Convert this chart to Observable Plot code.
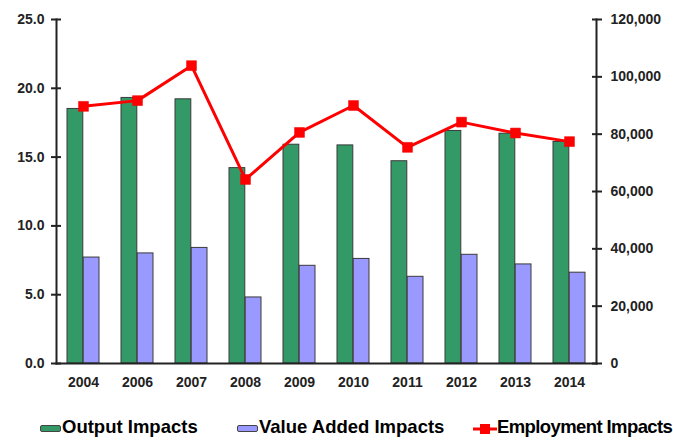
<!DOCTYPE html>
<html>
<head>
<meta charset="utf-8">
<script src="https://cdn.jsdelivr.net/npm/d3@7"></script>
<script src="https://cdn.jsdelivr.net/npm/@observablehq/plot@0.6"></script>
<style>
  html, body { margin: 0; padding: 0; background: #fff; }
  #wrap { position: relative; width: 673px; height: 441px; font-family: "Liberation Sans", Arial, sans-serif; }
  .leg { position: absolute; top: 416px; font-weight: bold; font-size: 18.5px; color: #000; display: flex; align-items: center; white-space: nowrap; }
  .sw { width: 21px; height: 7px; border: 1px solid #444; border-radius: 2px; box-sizing: border-box; margin-right: 1px; margin-top: 3px; }
</style>
</head>
<body>
<div id="wrap">
  <div id="chart"></div>
  <div class="leg" style="left:40px"><span class="sw" style="background:#339966"></span>Output Impacts</div>
  <div class="leg" style="left:237px"><span class="sw" style="background:#9999ff"></span>Value Added Impacts</div>
  <div class="leg" style="left:473px; letter-spacing:-0.6px"><svg width="24" height="12" style="margin-top:3px"><line x1="0" y1="6" x2="24" y2="6" stroke="#ff0000" stroke-width="3"/><rect x="7" y="1" width="10" height="10" fill="#ff0000"/></svg>Employment Impacts</div>
</div>
<script>
const years = ["2004","2006","2007","2008","2009","2010","2011","2012","2013","2014"];
const outputImpacts = [18.5, 19.3, 19.2, 14.2, 15.9, 15.85, 14.7, 16.9, 16.7, 16.1];
const valueAddedImpacts = [7.7, 8.0, 8.4, 4.8, 7.1, 7.6, 6.3, 7.9, 7.2, 6.6];
const employmentImpacts = [89700, 91700, 103900, 64200, 80600, 90000, 75400, 84200, 80400, 77400];
const leftTicks = [0, 5, 10, 15, 20, 25];
const rightTicks = [0, 20000, 40000, 60000, 80000, 100000, 120000];

const leftMax = 25, rightMax = 120000;
const k = leftMax / rightMax;

const data = years.map((y, i) => ({
  year: y,
  output: outputImpacts[i],
  value: valueAddedImpacts[i],
  emp: employmentImpacts[i] * k
}));

const font = "Liberation Sans, Arial, sans-serif";

const chart = Plot.plot({
  width: 673,
  height: 400,
  marginLeft: 56,
  marginRight: 77,
  marginTop: 19,
  marginBottom: 37,
  style: { fontFamily: font, fontSize: "14px", fontWeight: "bold", color: "#222", background: "#fff" },
  x: { type: "band", domain: years, paddingInner: 0.4, paddingOuter: 0.2, label: null },
  y: { domain: [0, leftMax], label: null },
  marks: [
    Plot.barY(data, { x: "year", y: "output", fill: "#339966", stroke: "#3a3a3a", strokeWidth: 1, insetRight: 16.2 }),
    Plot.barY(data, { x: "year", y: "value", fill: "#9999ff", stroke: "#3a3a3a", strokeWidth: 1, insetLeft: 16.2 }),
    Plot.frame({ anchor: "left", stroke: "#222", strokeWidth: 2 }),
    Plot.frame({ anchor: "right", stroke: "#222", strokeWidth: 2 }),
    Plot.frame({ anchor: "bottom", stroke: "#222", strokeWidth: 2 }),
    Plot.axisY({ anchor: "left", ticks: leftTicks, tickFormat: d3.format(".1f"), tickSize: 10, dx: 5, tickPadding: 7, strokeWidth: 2, stroke: "#222", fill: "#222", label: null }),
    Plot.axisY({ anchor: "right", ticks: rightTicks.map(d => d * k), tickFormat: d => d3.format(",")(Math.round(d / k)), tickSize: 10, dx: -5, tickPadding: 9, strokeWidth: 2, stroke: "#222", fill: "#222", label: null }),
    Plot.axisX({ tickSize: 0, tickPadding: 14, fill: "#222", label: null }),
    Plot.line(data, { x: "year", y: "emp", stroke: "#ff0000", strokeWidth: 3 }),
    Plot.dot(data, { x: "year", y: "emp", symbol: "square", r: 5.6, fill: "#ff0000", stroke: "#ee0000", strokeWidth: 0.5 })
  ]
});
document.getElementById("chart").appendChild(chart);
</script>
</body>
</html>
